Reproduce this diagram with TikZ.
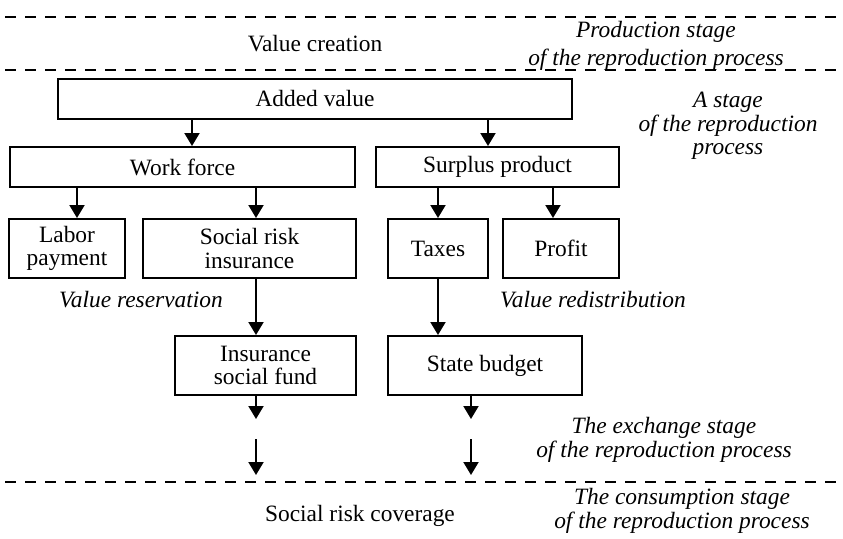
\documentclass[tikz,border=0pt]{standalone}
\usepackage{fontspec}
\setmainfont{Liberation Serif}
\usetikzlibrary{arrows.meta}

\def\unit{.5pt}

\begin{document}
\begin{tikzpicture}[x=\unit, y=-\unit,
    every node/.style={font=\fontsize{11.7}{11.7}\selectfont},
    box/.style={draw, line width=1pt, align=center, inner sep=0pt, minimum height=29.5pt},
    flatbox/.style={box, minimum height=20pt},
    stage/.style={align=center, font=\fontsize{11.7}{11.7}\selectfont\itshape},
    arr/.style={line width=1pt, -{Triangle[length=6.5pt,width=7.5pt]}},
    border/.style={dash pattern=on 5.5pt off 4.5pt, line width=.9pt}]
  \useasboundingbox (0,0) rectangle (843,538);

  % stage borders
  \foreach \y [count=\i] in {17,70,482} {
    \coordinate (bl\i) at (5,\y);
    \coordinate (br\i) at (843,\y);
    \draw[border] (bl\i) -- (br\i);
  }

  % boxes
  \node[flatbox, minimum width=257pt] (added) at (315,98.5) {Added value};
  \node[flatbox, minimum width=172.5pt] (work) at (182.5,167) {Work force};
  \node[flatbox, minimum width=121.5pt] (surplus) at (497.5,167) {Surplus product};
  \node[box, minimum width=58pt] (labor) at (67,248.5) {Labor\\payment};
  \node[box, minimum width=106.5pt] (social) at (249.5,248.5) {Social risk\\insurance};
  \node[box, minimum width=50pt] (taxes) at (438,248.5) {Taxes};
  \node[box, minimum width=58pt] (profit) at (561,248.5) {Profit};
  \node[box, minimum width=90.5pt] (fund) at (265.5,365.5) {Insurance\\social fund};
  \node[box, minimum width=97pt] (budget) at (485,365.5) {State budget};

  % plain texts
  \node (creation) at (315,44) {Value creation};
  \node (coverage) at (360,516) {Social risk coverage};
  \node[stage] (reserv) at (141,300) {Value reservation};
  \node[stage] (redistr) at (593,300) {Value redistribution};
  \node[stage] (production) at (656,46) {Production stage\\[2pt] of the reproduction process};
  \node[stage] (distrib) at (728,126) {A stage\\of the reproduction\\process};
  \node[stage] (exchange) at (664,440) {The exchange stage\\of the reproduction process};
  \node[stage] (consumption) at (682,511) {The consumption stage\\of the reproduction process};

  % arrow columns
  \coordinate (cW) at (192,0);
  \coordinate (cS) at (488,0);
  \coordinate (cL) at (77,0);
  \coordinate (cR) at (256,0);
  \coordinate (cT) at (438,0);
  \coordinate (cP) at (553,0);
  \coordinate (cB) at (471,0);

  \draw[arr] (added.south -| cW) -- (work.north -| cW);
  \draw[arr] (added.south -| cS) -- (surplus.north -| cS);
  \draw[arr] (work.south -| cL) -- (labor.north -| cL);
  \draw[arr] (work.south -| cR) -- (social.north -| cR);
  \draw[arr] (surplus.south -| cT) -- (taxes.north -| cT);
  \draw[arr] (surplus.south -| cP) -- (profit.north -| cP);
  \draw[arr] (social.south -| cR) -- (fund.north -| cR);
  \draw[arr] (taxes.south -| cT) -- (budget.north -| cT);

  % flows into consumption
  \coordinate (f1) at (256,419);
  \coordinate (f2) at (256,439);
  \coordinate (f3) at (256,475);
  \coordinate (s1) at (471,419);
  \coordinate (s2) at (471,439);
  \coordinate (s3) at (471,475);
  \draw[arr] (fund.south -| cR) -- (f1);
  \draw[arr] (f2) -- (f3);
  \draw[arr] (budget.south -| cB) -- (s1);
  \draw[arr] (s2) -- (s3);
\end{tikzpicture}
\end{document}
